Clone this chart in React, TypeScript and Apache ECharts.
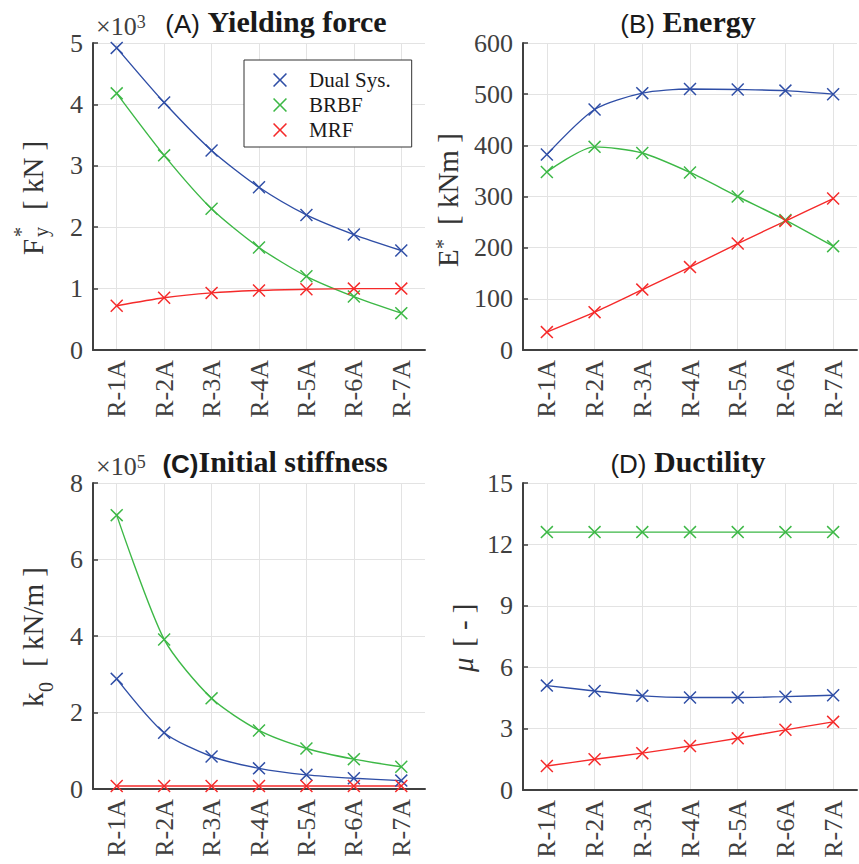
import React, { useEffect, useRef } from 'react';
import * as echarts from 'echarts';

const categories = ['R-1A', 'R-2A', 'R-3A', 'R-4A', 'R-5A', 'R-6A', 'R-7A'];
const seriesNames = ['Dual Sys.', 'BRBF', 'MRF'];

// (A) Yielding force, x10^3 kN
const forceDual = [4.92, 4.03, 3.25, 2.65, 2.2, 1.88, 1.62];
const forceBRBF = [4.18, 3.17, 2.3, 1.67, 1.2, 0.87, 0.6];
const forceMRF = [0.72, 0.85, 0.93, 0.97, 0.99, 1.0, 1.0];
// (B) Energy, kNm
const energyDual = [382, 470, 502, 510, 509, 507, 500];
const energyBRBF = [348, 397, 385, 347, 300, 254, 203];
const energyMRF = [35, 74, 118, 162, 208, 252, 296];
// (C) Initial stiffness, x10^5 kN/m
const stiffDual = [2.88, 1.47, 0.85, 0.54, 0.37, 0.28, 0.22];
const stiffBRBF = [7.16, 3.91, 2.37, 1.53, 1.06, 0.78, 0.58];
const stiffMRF = [0.08, 0.08, 0.08, 0.08, 0.08, 0.08, 0.08];
// (D) Ductility
const ductDual = [5.1, 4.84, 4.6, 4.52, 4.52, 4.56, 4.63];
const ductBRBF = [12.6, 12.6, 12.6, 12.6, 12.6, 12.6, 12.6];
const ductMRF = [1.17, 1.5, 1.8, 2.15, 2.53, 2.94, 3.33];

const yMaxes = [5, 600, 8, 15];
const yIntervals = [1, 100, 2, 3];

const COLORS = ['#2f4ea6', '#3db846', '#f52a2a'];
const SERIF = 'Liberation Serif, DejaVu Serif, serif';
const SANS = 'Liberation Sans, Arial, sans-serif';
const AXIS_COLOR = '#404040';
const GRID_COLOR = '#e3e3e3';
const X_SYMBOL = 'path://M0,8L8,0L50,42L92,0L100,8L58,50L100,92L92,100L50,58L8,100L0,92L42,50Z';

const grids = [
  { left: 93, top: 43, width: 332, height: 307 },
  { left: 523, top: 43, width: 334, height: 307 },
  { left: 93, top: 483, width: 332, height: 306 },
  { left: 523, top: 483, width: 334, height: 307 },
];

type Part = { t: string; lx: number; base: number; size: number; italic?: boolean };

function rotLabel(x: number, y: number, parts: Part[]) {
  return {
    type: 'group',
    x,
    y,
    rotation: Math.PI / 2,
    children: parts.map((p) => ({
      type: 'text',
      x: p.lx,
      y: p.base - 0.34 * p.size,
      style: {
        text: p.t,
        font: `${p.italic ? 'italic ' : ''}${p.size}px ${SERIF}`,
        fill: '#333333',
        align: 'left',
        verticalAlign: 'middle',
      },
    })),
  };
}

function titleText(x: number, baseline: number, tag: string, name: string, tagBold: boolean, gap: string) {
  return {
    type: 'text',
    x,
    y: baseline - 10.2,
    style: {
      text: `{a|${tag}}${gap}{b|${name}}`,
      align: 'center',
      verticalAlign: 'middle',
      rich: {
        a: { fontFamily: SANS, fontSize: 26, fontWeight: tagBold ? 'bold' : 'normal', fill: '#1a1a1a', lineHeight: 30, verticalAlign: 'bottom' },
        b: { fontFamily: SERIF, fontSize: 30, fontWeight: 'bold', fill: '#1a1a1a', lineHeight: 30, verticalAlign: 'bottom' },
      },
      fontFamily: SERIF,
      fontSize: 30,
      fill: '#1a1a1a',
    },
  };
}

function expText(x: number, baseline: number, exp: string) {
  return {
    type: 'text',
    x,
    y: baseline - 21.8 + 13,
    style: {
      text: `{m|\u00d710}{s|${exp}}`,
      align: 'left',
      verticalAlign: 'middle',
      fontFamily: SERIF,
      fontSize: 26,
      rich: {
        m: { fontFamily: SERIF, fontSize: 26, fill: AXIS_COLOR, lineHeight: 26, verticalAlign: 'bottom' },
        s: { fontFamily: SERIF, fontSize: 18, fill: AXIS_COLOR, lineHeight: 18, verticalAlign: 'top' },
      },
    },
  };
}

export default function App() {
  const ref = useRef<HTMLDivElement>(null);
  useEffect(() => {
    if (!ref.current) return;
    const chart = echarts.init(ref.current, undefined, { renderer: 'svg' });
    const data = [
      [forceDual, forceBRBF, forceMRF],
      [energyDual, energyBRBF, energyMRF],
      [stiffDual, stiffBRBF, stiffMRF],
      [ductDual, ductBRBF, ductMRF],
    ];
    const xAxis = grids.map((_, i) => ({
      type: 'category',
      gridIndex: i,
      data: categories,
      boundaryGap: true,
      axisLine: { lineStyle: { color: AXIS_COLOR, width: 2 } },
      axisTick: { inside: true, alignWithLabel: true, length: 5, lineStyle: { color: AXIS_COLOR, width: 1.5 } },
      splitLine: { show: true, alignWithLabel: true, lineStyle: { color: GRID_COLOR, width: 1 } },
      axisLabel: { rotate: 90, margin: 10, fontFamily: SERIF, fontSize: 26, color: AXIS_COLOR, interval: 0 },
    }));
    const yAxis = grids.map((_, i) => ({
      type: 'value',
      gridIndex: i,
      min: 0,
      max: yMaxes[i],
      interval: yIntervals[i],
      axisLine: { show: true, lineStyle: { color: AXIS_COLOR, width: 2 } },
      axisTick: { show: true, inside: true, length: 5, lineStyle: { color: AXIS_COLOR, width: 1.5 } },
      splitLine: { show: true, lineStyle: { color: GRID_COLOR, width: 1 } },
      axisLabel: { margin: 10, fontFamily: SERIF, fontSize: 26, color: AXIS_COLOR },
    }));
    const series: any[] = [];
    data.forEach((group, gi) => {
      group.forEach((vals, si) => {
        series.push({
          type: 'line',
          name: seriesNames[si],
          xAxisIndex: gi,
          yAxisIndex: gi,
          data: vals,
          smooth: 0.25,
          symbol: X_SYMBOL,
          symbolSize: 13,
          showSymbol: true,
          itemStyle: { color: COLORS[si] },
          lineStyle: { color: COLORS[si], width: 1.4 },
          emphasis: { disabled: true },
        });
      });
    });

    chart.setOption({
      animation: false,
      backgroundColor: '#ffffff',
      textStyle: { fontFamily: SERIF },
      grid: grids.map((g) => ({ ...g, containLabel: false })),
      xAxis,
      yAxis,
      legend: {
        data: seriesNames,
        orient: 'vertical',
        left: 244,
        top: 60,
        padding: [9, 21, 6, 29],
        itemWidth: 14,
        itemHeight: 14,
        itemGap: 3,
        icon: X_SYMBOL,
        backgroundColor: '#ffffff',
        borderColor: '#333333',
        borderWidth: 1,
        borderRadius: 0,
        textStyle: { fontFamily: SERIF, fontSize: 21, color: '#1a1a1a', lineHeight: 22, padding: [0, 0, 0, 17] },
        selectedMode: false,
      },
      graphic: [
        titleText(276, 32, '(A)', 'Yielding force', false, ' '),
        titleText(688, 32, '(B)', 'Energy', false, ' '),
        titleText(275, 472, '(C)', 'Initial stiffness', true, ''),
        titleText(688, 472, '(D)', 'Ductility', false, ' '),
        expText(96, 35, '3'),
        expText(96, 475, '5'),
        rotLabel(43, 255, [
          { t: 'F', lx: 0, base: 0, size: 29 },
          { t: '*', lx: 18, base: -15, size: 20 },
          { t: 'y', lx: 18, base: 5, size: 20 },
          { t: '[ kN ]', lx: 45, base: 0, size: 29 },
        ]),
        rotLabel(458, 267, [
          { t: 'E', lx: 0, base: 0, size: 29 },
          { t: '*', lx: 18, base: -8, size: 20 },
          { t: '[ kNm ]', lx: 42, base: 0, size: 29 },
        ]),
        rotLabel(43, 707, [
          { t: 'k', lx: 0, base: 0, size: 29 },
          { t: '0', lx: 15, base: 10, size: 20 },
          { t: '[ kN/m ]', lx: 40, base: 0, size: 29 },
        ]),
        rotLabel(473, 672, [
          { t: '\u03bc', lx: 0, base: 0, size: 29, italic: true },
          { t: '[ - ]', lx: 25, base: 0, size: 29 },
        ]),
      ],
      series,
    });
    return () => chart.dispose();
  }, []);
  return (
    <div
      ref={ref}
      style={{ position: 'absolute', left: 0, top: 0, width: 859, height: 864, background: '#fff' }}
    />
  );
}
